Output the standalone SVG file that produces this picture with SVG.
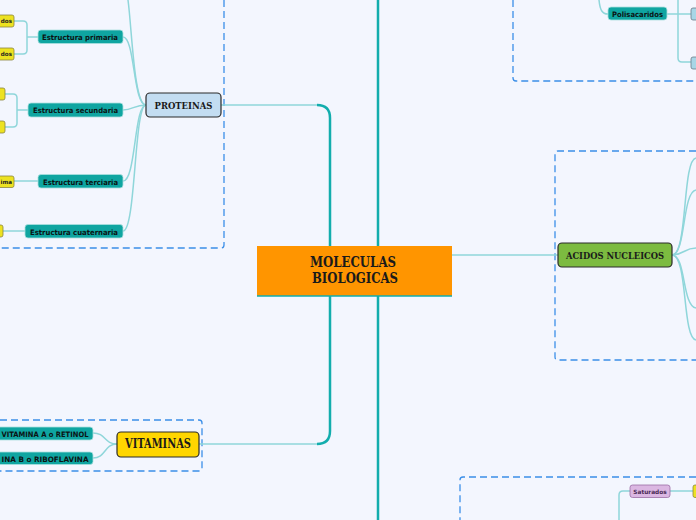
<svg xmlns="http://www.w3.org/2000/svg" width="696" height="520" viewBox="0 0 696 520">
<style>
.bg{fill:#f3f6fe}
.dash{fill:none;stroke:#3b8fe8;stroke-width:1.3;stroke-dasharray:7,4}
.main{fill:none;stroke:#12adad;stroke-width:2.5}
.lite{fill:none;stroke:#8fd6da;stroke-width:1.5}
.teal rect{fill:#0fa5a1;stroke:#a9e0de;stroke-width:0.8}
.teal text{font-family:"DejaVu Sans",sans-serif;font-weight:bold;font-size:7.4px;fill:#0b1414;text-anchor:middle}
.yel rect{fill:#ede221;stroke:#8c8640;stroke-width:0.8}
.yel text{font-family:"DejaVu Sans",sans-serif;font-weight:bold;font-size:5.6px;fill:#222;text-anchor:end}
.big text{font-family:"DejaVu Serif",serif;font-weight:bold;fill:#1a1a1a;text-anchor:middle}
.node{stroke:#2a2a2a;stroke-width:1.2}
.gb rect{fill:#a8d6e6;stroke:#6a7c88;stroke-width:0.8}
</style>
<rect class="bg" x="0" y="0" width="696" height="520"/>

<!-- dashed boundaries -->
<path class="dash" d="M224,0 V245 Q224,248 221,248 H0"/>
<path class="dash" d="M0,420 H199 Q202,420 202,423 V468 Q202,471 199,471 H0"/>
<path class="dash" d="M513,0 V78 Q513,81 516,81 H696"/>
<path class="dash" d="M696,151 H558 Q555,151 555,154 V357 Q555,360 558,360 H696"/>
<path class="dash" d="M696,477 H463 Q460,477 460,480 V520"/>

<g id="connectors">
  <line class="main" x1="378" y1="0" x2="378" y2="520"/>
  <path class="main" d="M330,296 V118 Q330,105 317,105"/>
  <path class="main" d="M330,296 V431 Q330,444 317,444"/>
  <path class="lite" d="M221,105 H317"/>
  <path class="lite" d="M199,444 H317"/>
  <path class="lite" d="M452,255 H558"/>
  <!-- proteinas -->
  <path class="lite" d="M146,105 C134,105 132,30 128,0"/>
  <path class="lite" d="M146,105 C133,105 135,37 123,37"/>
  <path class="lite" d="M146,105 C134,105 133,110 123,110"/>
  <path class="lite" d="M146,105 C134,105 136,181 123,181"/>
  <path class="lite" d="M146,105 C134,105 136,231 123,231"/>
  <path class="lite" d="M38,37 H27"/>
  <path class="lite" d="M14,21 H23 Q27,21 27,25 V50 Q27,54 23,54 H14"/>
  <path class="lite" d="M28,110 H17"/>
  <path class="lite" d="M5,94 H13 Q17,94 17,98 V123 Q17,127 13,127 H5"/>
  <path class="lite" d="M14,181 H38"/>
  <path class="lite" d="M3,231 H25"/>
  <!-- vitaminas -->
  <path class="lite" d="M117,444 C104,444 106,433 93,433"/>
  <path class="lite" d="M117,444 C104,444 106,458 93,458"/>
  <!-- acidos -->
  <path class="lite" d="M672,255 C688,255 682,160 696,158"/>
  <path class="lite" d="M672,255 C686,255 682,192 696,190"/>
  <path class="lite" d="M672,255 C684,255 684,248 696,248"/>
  <path class="lite" d="M672,255 C686,255 682,306 696,308"/>
  <path class="lite" d="M672,255 C688,255 682,338 696,340"/>
  <!-- top right -->
  <path class="lite" d="M599,0 C600,10 602,14 608,14"/>
  <path class="lite" d="M667,14 H691"/>
  <path class="lite" d="M678,0 V58 Q678,62 682,62 H691"/>
  <!-- bottom right -->
  <path class="lite" d="M670,491 H693"/>
  <path class="lite" d="M630,491 H623 Q619,491 619,495 V520"/>
</g>

<g id="center" class="big">
  <rect x="257" y="246" width="195" height="50" fill="#ff9500"/>
  <line x1="257" y1="296" x2="452" y2="296" stroke="#12adad" stroke-width="1.5"/>
  <text x="353" y="267" font-size="14" textLength="86" lengthAdjust="spacingAndGlyphs">MOLECULAS</text>
  <text x="355" y="283" font-size="14" textLength="86" lengthAdjust="spacingAndGlyphs">BIOLOGICAS</text>
</g>

<g id="proteinas" class="big">
  <rect class="node" x="146" y="93" width="75" height="24" rx="4" fill="#c3ddf2"/>
  <text x="183.5" y="108.5" font-size="10" textLength="58" lengthAdjust="spacingAndGlyphs">PROTEINAS</text>
</g>
<g id="primaria" class="teal"><rect x="38" y="30" width="85" height="13.5" rx="3"/><text x="80" y="40" textLength="76" lengthAdjust="spacingAndGlyphs">Estructura primaria</text></g>
<g id="secundaria" class="teal"><rect x="28" y="103" width="95" height="14" rx="3"/><text x="75.5" y="113" textLength="85" lengthAdjust="spacingAndGlyphs">Estructura secundaria</text></g>
<g id="terciaria" class="teal"><rect x="38" y="174.5" width="85" height="13.5" rx="3"/><text x="80.5" y="184.5" textLength="75" lengthAdjust="spacingAndGlyphs">Estructura terciaria</text></g>
<g id="cuaternaria" class="teal"><rect x="25" y="224.5" width="98" height="13.5" rx="3"/><text x="74" y="234.5" textLength="88" lengthAdjust="spacingAndGlyphs">Estructura cuaternaria</text></g>
<g id="y1" class="yel"><rect x="-5" y="15" width="19" height="12" rx="2"/><text x="12" y="23">dos</text></g>
<g id="y2" class="yel"><rect x="-5" y="48" width="19" height="12" rx="2"/><text x="12" y="56">dos</text></g>
<g id="y3" class="yel"><rect x="-5" y="88" width="10" height="12" rx="2"/></g>
<g id="y4" class="yel"><rect x="-5" y="121" width="10" height="12" rx="2"/></g>
<g id="y5" class="yel"><rect x="-5" y="176" width="19" height="11.5" rx="2"/><text x="12" y="184">ima</text></g>
<g id="y6" class="yel"><rect x="-5" y="225" width="8" height="12" rx="2"/></g>

<g id="vitaminas" class="big">
  <rect class="node" x="117" y="432" width="82" height="25" rx="4" fill="#ffd600"/>
  <text x="158" y="448" font-size="12" textLength="66" lengthAdjust="spacingAndGlyphs">VITAMINAS</text>
</g>
<g id="vitA" class="teal"><rect x="-10" y="427" width="103" height="13" rx="3"/><text x="45" y="436.5" textLength="87" lengthAdjust="spacingAndGlyphs">VITAMINA A o RETINOL</text></g>
<g id="vitB" class="teal"><rect x="-30" y="452" width="123" height="12.5" rx="3"/><text x="45" y="461.5" textLength="87" lengthAdjust="spacingAndGlyphs">INA B o RIBOFLAVINA</text></g>

<g id="acidos" class="big">
  <rect class="node" x="558" y="243" width="114" height="24" rx="4" fill="#7cbb40"/>
  <text x="615" y="258.5" font-size="10" textLength="98" lengthAdjust="spacingAndGlyphs">ACIDOS NUCLEICOS</text>
</g>

<g id="polisacaridos" class="teal"><rect x="608" y="7" width="59" height="13" rx="3"/><text x="637.5" y="16.5" textLength="51" lengthAdjust="spacingAndGlyphs">Polisacaridos</text></g>
<g id="gb1" class="gb"><rect x="691" y="8" width="10" height="12" rx="2"/></g>
<g id="gb2" class="gb"><rect x="691" y="57" width="10" height="12" rx="2"/></g>

<g id="saturados">
  <rect x="630" y="485" width="40" height="12.5" rx="2.5" fill="#dbb7e2" stroke="#9a6ca4" stroke-width="0.8"/>
  <text x="650" y="493.5" font-family="DejaVu Sans, sans-serif" font-weight="bold" font-size="5.8" fill="#4a2a55" text-anchor="middle">Saturados</text>
</g>
<g id="y7" class="yel"><rect x="693" y="485" width="10" height="12.5" rx="2"/></g>
</svg>
